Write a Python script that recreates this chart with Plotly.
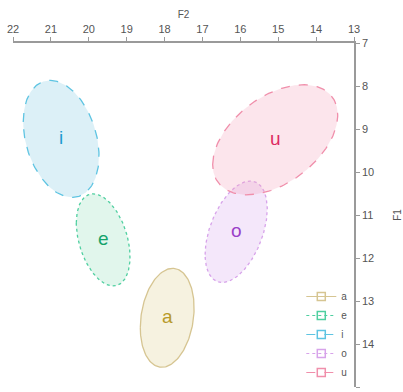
import numpy as np
import plotly.graph_objects as go

# ---- data ----
vowels = ["a", "e", "i", "o", "u"]
f2_mean = [17.93, 19.62, 20.73, 16.11, 15.08]   # F2 centre
f1_mean = [13.39, 11.58, 9.23, 11.39, 9.25]     # F1 centre
f2_spread = [0.71, 0.71, 1.00, 0.82, 1.65]      # half-extent along F2
f1_spread = [1.15, 1.07, 1.36, 1.18, 1.28]      # half-extent along F1
corr = [0.20, -0.37, -0.29, 0.45, 0.45]         # F2/F1 correlation

f2_ticks = list(range(13, 23))
f1_ticks = list(range(7, 16))

# ---- styles ----
line_col = ["#d6c592", "#4fcfa0", "#5ec4e2", "#d7a3ea", "#f08fab"]
fill_col = ["rgba(226,214,160,0.32)", "rgba(120,212,170,0.22)", "rgba(140,206,230,0.30)",
            "rgba(214,170,236,0.28)", "rgba(246,160,185,0.28)"]
text_col = ["#b89a2a", "#14a36a", "#1e9bd0", "#9a40c8", "#dd2a62"]
dash = ["solid", "dot", "dash", "dot", "dash"]

fig = go.Figure()
t = np.linspace(0, 2 * np.pi, 181)
for i, v in enumerate(vowels):
    d = np.arccos(corr[i])
    x = f2_mean[i] + f2_spread[i] * np.cos(t)
    y = f1_mean[i] + f1_spread[i] * np.cos(t + d)
    fig.add_trace(go.Scatter(
        x=x, y=y, mode="lines", fill="toself", fillcolor=fill_col[i],
        line=dict(color=line_col[i], width=1.3, dash=dash[i]),
        showlegend=False, hoverinfo="skip"))
    fig.add_trace(go.Scatter(
        x=[f2_mean[i]], y=[f1_mean[i]], mode="text", text=[v],
        textfont=dict(size=19, color=text_col[i], family="Liberation Sans"),
        showlegend=False))

for i, v in enumerate(vowels):
    fig.add_trace(go.Scatter(
        x=[None], y=[None], mode="lines+markers", name=v,
        line=dict(color=line_col[i], width=1.2, dash=dash[i]),
        marker=dict(symbol="square-open", size=8, color=line_col[i],
                    line=dict(width=1.5, color=line_col[i]))))

axis_common = dict(
    showline=True, linecolor="#9a9a9a", linewidth=1.5,
    ticks="outside", ticklen=4, tickcolor="#9a9a9a", tickwidth=1,
    showgrid=False, zeroline=False, automargin=False,
    tickfont=dict(size=11, color="#555555", family="Liberation Sans"),
)

fig.update_layout(
    width=403, height=392,
    margin=dict(l=13, r=49, t=43, b=5),
    paper_bgcolor="white", plot_bgcolor="white",
    font=dict(family="Liberation Sans", color="#555555"),
    xaxis=dict(side="top", range=[22, 13], tickvals=f2_ticks,
               title=dict(text="F2", font=dict(size=10, color="#555555"), standoff=2),
               **axis_common),
    yaxis=dict(side="right", range=[15, 7], tickvals=f1_ticks,
               title=dict(text="F1", font=dict(size=10, color="#555555"), standoff=22),
               **axis_common),
    legend=dict(x=0.995, y=0.0, xanchor="right", yanchor="bottom",
                bgcolor="rgba(0,0,0,0)", font=dict(size=10, color="#555555"),
                itemwidth=30, tracegroupgap=0),
)

fig.write_html("out.html", config={"displayModeBar": False},
               post_script="document.body.style.margin='0px';")
